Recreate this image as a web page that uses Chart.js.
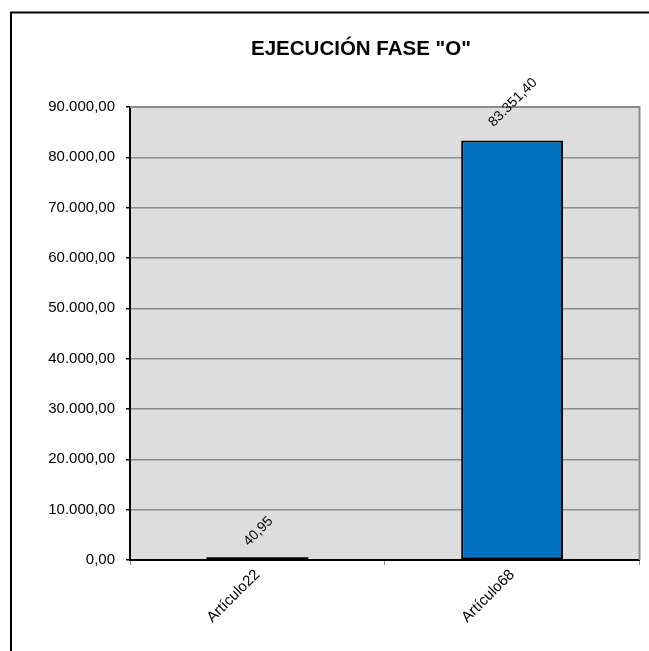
<!DOCTYPE html>
<html>
<head>
<meta charset="utf-8">
<script src="https://cdn.jsdelivr.net/npm/chart.js@4.4.1/dist/chart.umd.min.js"></script>
<style>
  html, body { margin: 0; padding: 0; background: #fff; }
  canvas { display: block; }
</style>
</head>
<body>
<canvas id="chart" width="649" height="651"></canvas>
<script>
const title = 'EJECUCIÓN FASE "O"';
const categories = ["Artículo22", "Artículo68"];
const values = [40.95, 83351.4];
const valueLabels = ["40,95", "83.351,40"];
const yTickLabels = ["0,00", "10.000,00", "20.000,00", "30.000,00", "40.000,00",
  "50.000,00", "60.000,00", "70.000,00", "80.000,00", "90.000,00"];

const font = "'Liberation Sans', Arial, sans-serif";

// frame, gray plot background, title, value labels
const decor = {
  id: "decor",
  beforeDraw: (chart) => {
    const ctx = chart.ctx;
    const a = chart.chartArea;
    ctx.save();
    ctx.fillStyle = "#fff";
    ctx.fillRect(0, 0, chart.width, chart.height);
    ctx.strokeStyle = "#000";
    ctx.lineWidth = 2;
    ctx.strokeRect(11, 12.5, 700, 700);
    ctx.fillStyle = "#dddddd";
    ctx.fillRect(a.left, a.top, a.right - a.left, a.bottom - a.top);
    ctx.restore();
  },
  afterDatasetsDraw: (chart) => {
    // very small bars collapse to nothing, so outline them by hand
    const ctx = chart.ctx;
    const meta = chart.getDatasetMeta(0);
    ctx.save();
    ctx.strokeStyle = "#000";
    ctx.lineWidth = 2;
    meta.data.forEach((bar) => {
      if (bar.base - bar.y < 4) {
        ctx.beginPath();
        ctx.moveTo(bar.x - bar.width / 2, bar.base - 1);
        ctx.lineTo(bar.x + bar.width / 2, bar.base - 1);
        ctx.stroke();
      }
    });
    ctx.restore();
  },
  afterDraw: (chart) => {
    const ctx = chart.ctx;
    const a = chart.chartArea;
    ctx.save();
    ctx.strokeStyle = "#8c8c8c";
    ctx.lineWidth = 2;
    ctx.beginPath();
    ctx.moveTo(a.left, a.top);
    ctx.lineTo(a.right, a.top);
    ctx.lineTo(a.right, a.bottom);
    ctx.stroke();

    ctx.fillStyle = "#000";
    ctx.font = "bold 20.5px " + font;
    ctx.textAlign = "center";
    ctx.textBaseline = "middle";
    ctx.fillText(title, 361, 49);

    ctx.font = "14px " + font;
    const meta = chart.getDatasetMeta(0);
    meta.data.forEach((bar, i) => {
      const w = ctx.measureText(valueLabels[i]).width;
      const d = 16 + w * 0.354;
      ctx.save();
      ctx.translate(bar.x + 1, bar.y - d);
      ctx.rotate(-Math.PI / 4);
      ctx.fillText(valueLabels[i], 0, 0);
      ctx.restore();
    });
    ctx.restore();
  },
};

new Chart(document.getElementById("chart"), {
  type: "bar",
  data: {
    labels: categories,
    datasets: [{
      data: values,
      backgroundColor: "#0070c0",
      borderColor: "#000",
      borderWidth: 2,
      borderSkipped: false,
      categoryPercentage: 0.8,
      barPercentage: 0.5,
    }],
  },
  options: {
    responsive: false,
    animation: false,
    layout: { padding: { left: 0, top: 107, right: 9.5, bottom: 0 } },
    plugins: {
      legend: { display: false },
      tooltip: { enabled: false },
    },
    scales: {
      x: {
        grid: { drawOnChartArea: false, tickLength: 5, tickColor: "#8c8c8c" },
        border: { color: "#000", width: 2 },
        ticks: {
          color: "#000",
          font: { family: font, size: 15 },
          minRotation: 45,
          maxRotation: 45,
          padding: 1,
        },
        afterFit: (scale) => { scale.height = 91; },
      },
      y: {
        min: 0,
        max: 90000,
        grid: { color: "#8c8c8c", lineWidth: 1.5, tickLength: 4, tickColor: "#000" },
        border: { color: "#000", width: 2 },
        ticks: {
          stepSize: 10000,
          color: "#000",
          font: { family: font, size: 15 },
          padding: 11,
          callback: (v, i) => yTickLabels[i],
        },
        afterFit: (scale) => { scale.width = 130; },
      },
    },
  },
  plugins: [decor],
});
</script>
</body>
</html>
